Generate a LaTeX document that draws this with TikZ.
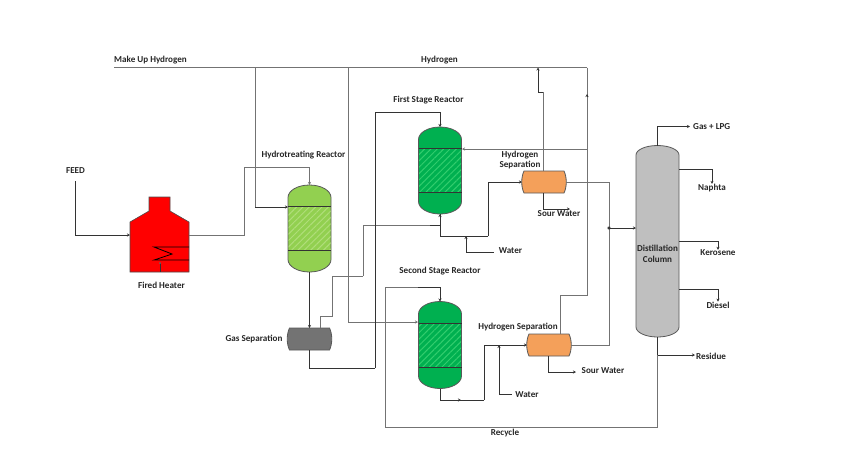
\documentclass[tikz,border=0pt]{standalone}
\usepackage{fontspec}
\setmainfont{Carlito}
\usetikzlibrary{arrows.meta, patterns.meta}

\definecolor{hydrofill}{RGB}{146, 208, 80}
\definecolor{hydrostripe}{RGB}{176, 222, 122}
\definecolor{reactfill}{RGB}{0, 176, 80}
\definecolor{reactstripe}{RGB}{50, 205, 110}
\definecolor{drumfill}{RGB}{244, 160, 90}

\tikzset{
    pipe/.style = {draw = black!80, line width = 0.8pt},
    lightpipe/.style = {draw = black!55, line width = 1pt},
    tip/.style = {-{Stealth[length = 3pt, width = 3pt]}},
    lbl/.style = {font = \fontsize{9.1}{10.5}\selectfont\bfseries, text = black!85, inner sep = 0pt, align = center},
    shell/.style = {draw = black!65, line width = 0.8pt},
    hold/.style = {inner sep = 0pt, outer sep = 0pt}
}

% reactor: name, centre, fill, stripes
\newcommand{\reactor}[4]{
    \begin{scope}[shift = {(#2)}]
        \path[shell, fill = #3] (-21.5, -31) arc[start angle = 180, end angle = 0, x radius = 21.5pt, y radius = 12.5pt]
            -- (21.5, 31) arc[start angle = 0, end angle = -180, x radius = 21.5pt, y radius = 12.5pt] -- cycle;
        \fill[pattern = {Lines[angle = 45, distance = 4.5pt, line width = 1pt]}, pattern color = #4] (-21, -22) rectangle (21, 22);
        \draw[black!80, line width = 0.8pt] (-21.5, -22) -- (21.5, -22);
        \draw[black!80, line width = 0.8pt] (-21.5, 22) -- (21.5, 22);
        \node[hold, minimum width = 43pt, minimum height = 87pt] (#1) at (0, 0) {};
    \end{scope}
}

% separator drum: name, centre, fill
\newcommand{\drum}[3]{
    \begin{scope}[shift = {(#2)}]
        \path[shell, fill = #3] (-20, -11) -- (20, -11) .. controls (23, -5) and (23, 5) .. (20, 11)
            -- (-20, 11) .. controls (-23, 5) and (-23, -5) .. (-20, -11) -- cycle;
        \node[hold, minimum width = 44pt, minimum height = 22pt] (#1) at (0, 0) {};
    \end{scope}
}

\begin{document}
\begin{tikzpicture}[x = 1pt, y = -1pt]
    \useasboundingbox (0, 0) rectangle (857, 459);

    % equipment
    \fill[red, draw = black!70, line width = 0.6pt] (130, 272) -- (130, 222) -- (149, 211) -- (149, 197) -- (170, 197)
        -- (170, 211) -- (189, 222) -- (189, 272) -- cycle;
    \draw[black, line width = 0.8pt] (189, 247) -- (154, 247) -- (172, 254) -- (154, 260) -- (189, 260);
    \node[hold, minimum width = 59pt, minimum height = 74pt] (heater) at (159.5, 235) {};
    \coordinate (burner) at (160, 263);
    \reactor{hydro}{309.5, 228.5}{hydrofill}{hydrostripe}
    \reactor{reactone}{440, 170.5}{reactfill}{reactstripe}
    \reactor{reacttwo}{440, 345}{reactfill}{reactstripe}
    \drum{gassep}{309.5, 339}{black!55}
    \drum{sepone}{544, 182}{drumfill}
    \drum{septwo}{549, 345}{drumfill}
    \path[shell, fill = black!25] (636, 155) arc[start angle = 180, end angle = 0, x radius = 21.5pt, y radius = 9.5pt]
        -- (679, 327) arc[start angle = 0, end angle = -180, x radius = 21.5pt, y radius = 10pt] -- cycle;
    \node[hold, minimum width = 43pt, minimum height = 191pt] (column) at (657.5, 241.5) {};

    % labels
    \node[lbl] (feed) at (75.5, 170.5) {FEED};
    \node[lbl] (makeup) at (150.5, 60) {Make Up Hydrogen};
    \node[lbl] (hydrogen) at (439.5, 60) {Hydrogen};
    \node[lbl] (firedlbl) at (161.5, 285) {Fired Heater};
    \node[lbl] (hydrolbl) at (303.5, 155) {Hydrotreating Reactor};
    \node[lbl] (gaslbl) at (254, 339) {Gas Separation};
    \node[lbl] (firstlbl) at (428.5, 100.5) {First Stage Reactor};
    \node[lbl] (secondlbl) at (440, 271) {Second Stage Reactor};
    \node[lbl] (seponelbl) at (520, 160) {Hydrogen\\Separation};
    \node[lbl] (septwolbl) at (518, 327) {Hydrogen Separation};
    \node[lbl] (sourone) at (559, 213.5) {Sour Water};
    \node[lbl] (sourtwo) at (603, 371) {Sour Water};
    \node[lbl] (waterone) at (510.5, 250.5) {Water};
    \node[lbl] (watertwo) at (527, 394.5) {Water};
    \node[lbl] (recycle) at (505, 433) {Recycle};
    \node[lbl] (collbl) at (657.5, 254) {Distillation\\Column};
    \node[lbl, anchor = west, inner xsep = 3pt] (gaslpg) at (690, 126.5) {Gas + LPG};
    \node[lbl] (naphta) at (712, 188) {Naphta};
    \node[lbl] (kerosene) at (718, 253) {Kerosene};
    \node[lbl] (diesel) at (718, 305) {Diesel};
    \node[lbl, anchor = west, inner xsep = 1pt] (residue) at (695, 356) {Residue};

    % free ends and tees
    \coordinate (feedtop) at (75, 181);
    \coordinate (h2start) at (114, 67.5);
    \coordinate (h2end) at (587, 67.5);
    \coordinate (teeone) at (255, 67.5);
    \coordinate (teetwo) at (348, 67.5);
    \coordinate (teehone) at (538, 67.5);
    \coordinate (teecol) at (609, 228);
    \coordinate (teeres) at (657.5, 355);
    \coordinate (teewone) at (466, 236);
    \coordinate (teewtwo) at (499, 345);
    \coordinate (naphout) at (679, 169);
    \coordinate (keroout) at (679, 241);
    \coordinate (dieselout) at (679, 289);
    \coordinate (colin) at (636, 228);
    \coordinate (gastop) at (320, 328);
    \coordinate (hydrobed) at (288, 207);
    \coordinate (reactonebed) at (462, 149);
    \coordinate (reacttwobed) at (418, 322);
    \coordinate (sepvent) at (543, 171);
    \coordinate (seponebot) at (543, 193);
    \coordinate (septwotop) at (560, 334);
    \coordinate (septwobot) at (548, 356);
    \coordinate (waterend) at (494, 252);
    \coordinate (watertwoend) at (512, 394);
    \coordinate (sourend) at (570, 209);
    \coordinate (sourtwoend) at (576, 372);

    % lines
    \draw[lightpipe] (h2start) -- (h2end);
    \draw[lightpipe] (teeone) -- (255, 207);
    \draw[pipe, tip] (255, 207) -- (hydrobed);
    \draw[lightpipe, tip] (teetwo) |- (reacttwobed);
    \draw[lightpipe] (h2end) -- (587, 295) -| (septwotop);
    \draw[lightpipe, tip] (587, 149) -- (reactonebed);
    \draw[pipe, tip] (587, 97) -- (587, 94);
    \draw[pipe, tip] (feedtop) |- (heater.west);
    \draw[lightpipe, tip] (heater.east) -| (244, 167) -| (hydro.north);
    \draw[pipe] (burner) -- (160, 272);
    \fill[black!60] (burner) circle (1pt);
    \draw[pipe, tip] (hydro.south) -- (gassep.north);
    \draw[lightpipe] (gastop) |- (332, 316) |- (363, 276);
    \draw[lightpipe] (363, 276) |- (430, 225);
    \draw[pipe] (430, 225) -- (reactone.south |- 0, 225);
    \draw[pipe, tip] (reactone.south |- 0, 224) -- (reactone.south);
    \draw[pipe] (gassep.south) |- (375, 368);
    \draw[pipe, tip] (375, 368) -- (375, 112) -| (reactone.north);
    \draw[pipe] (reactone.south) |- (488, 236);
    \draw[pipe, tip] (488, 236) |- (sepone.west);
    \draw[pipe, tip] (teewone) ++(0, 1) -- (teewone);
    \draw[pipe] (teewone) |- (waterend);
    \draw[lightpipe] (sepvent) -- (543, 92);
    \draw[pipe, tip] (543, 92) -| (teehone);
    \draw[pipe, tip] (seponebot) |- (sourend);
    \draw[lightpipe] (sepone.east) -| (609, 345);
    \draw[lightpipe] (septwo.east) -| (609, 300);
    \draw[pipe, tip] (teecol) -- (colin);
    \draw[pipe, tip] (609, 229) -- (609, 226);
    \draw[pipe, tip] (609, 227) -- (609, 230);
    \draw[pipe] (reacttwo.south) |- (484, 400);
    \draw[pipe, tip] (484, 400) |- (septwo.west);
    \draw[pipe, tip] (458, 400) -- (461, 400);
    \draw[pipe, tip] (teewtwo) ++(0, 1) -- (teewtwo);
    \draw[pipe] (teewtwo) |- (watertwoend);
    \draw[pipe, tip] (septwobot) |- (sourtwoend);
    \draw[pipe, tip] (column.north) |- (gaslpg.west);
    \draw[pipe, tip] (naphout) -| (naphta.north);
    \draw[pipe, tip] (keroout) -| (kerosene.north);
    \draw[pipe, tip] (dieselout) -| (diesel.north);
    \draw[pipe] (column.south) -- (teeres);
    \draw[pipe, tip] (teeres) -- (residue.west |- teeres);
    \draw[lightpipe] (teeres) |- (385, 427);
    \draw[lightpipe] (385, 427) |- (418, 287);
    \draw[pipe, tip] (418, 287) -| (reacttwo.north);
\end{tikzpicture}
\end{document}
